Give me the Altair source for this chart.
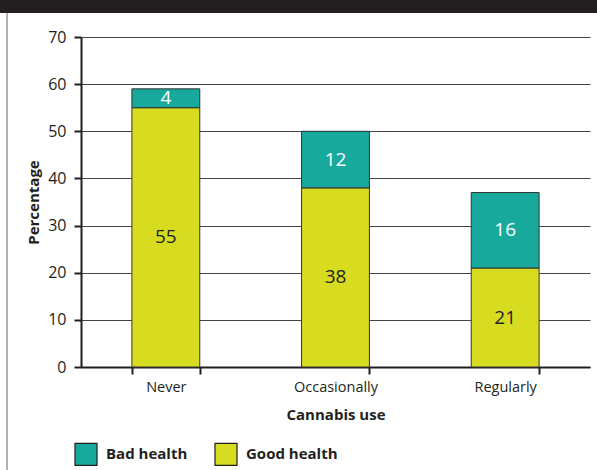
import altair as alt
import pandas as pd

categories = ["Never", "Occasionally", "Regularly"]
good_health = [55, 38, 21]
bad_health = [4, 12, 16]
series = ["Bad health", "Good health"]
colors = ["#17a99c", "#d8dc20"]
y_ticks = [0, 10, 20, 30, 40, 50, 60, 70]

rows = []
for c, g, b in zip(categories, good_health, bad_health):
    rows.append({"category": c, "health": "Good health", "value": g, "ord": 0})
    rows.append({"category": c, "health": "Bad health", "value": b, "ord": 1})
df = pd.DataFrame(rows)

FONT = "Open Sans"
INK = "#231f20"

common_axis = dict(
    labelFont=FONT,
    titleFont=FONT,
    titleFontSize=15,
    titleFontWeight="bold",
    labelColor=INK,
    titleColor=INK,
    domainColor=INK,
    domainWidth=2,
    tickColor=INK,
    tickWidth=2,
    tickSize=7,
)

x_enc = alt.X(
    "category:N",
    sort=categories,
    scale=alt.Scale(paddingInner=0.6, paddingOuter=0.3),
    axis=alt.Axis(
        title="Cannabis use",
        labelAngle=0,
        labelFontSize=14.5,
        tickBand="extent",
        grid=False,
        labelPadding=6,
        titlePadding=14,
        **common_axis,
    ),
)

base = alt.Chart(df).transform_stack(
    stack="value", as_=["v0", "v1"], groupby=["category"],
    sort=[alt.SortField("ord", order="ascending")],
).transform_calculate(mid="(datum.v0 + datum.v1) / 2")

bars = base.mark_bar(stroke="#333333", strokeWidth=1).encode(
    x=x_enc,
    y=alt.Y(
        "v0:Q",
        scale=alt.Scale(domain=[0, 70], nice=False),
        axis=alt.Axis(
            title="Percentage",
            values=y_ticks,
            labelFontSize=16,
            grid=True,
            gridColor="#444444",
            gridWidth=1,
            labelPadding=8,
            titlePadding=6,
            **common_axis,
        ),
    ),
    y2="v1:Q",
    color=alt.Color(
        "health:N",
        scale=alt.Scale(domain=series, range=colors),
        legend=alt.Legend(
            title=None,
            orient="none",
            legendX=-7,
            legendY=405,
            direction="horizontal",
            symbolType="square",
            symbolSize=484,
            symbolStrokeColor=INK,
            symbolStrokeWidth=1.2,
            symbolOpacity=1,
            labelFontSize=15,
            labelFontWeight="bold",
            labelFont=FONT,
            labelColor=INK,
            labelOffset=8,
            columnPadding=24,
        ),
    ),
)

labels = base.mark_text(fontSize=19, font=FONT).encode(
    x=alt.X("category:N", sort=categories),
    y=alt.Y("mid:Q"),
    text=alt.Text("value:Q"),
    color=alt.condition(alt.datum.health == "Bad health", alt.value("white"), alt.value(INK)),
)

deco = pd.DataFrame({"a": [0]})
band = alt.Chart(deco).mark_rect(color=INK).encode(
    x=alt.value(-81), x2=alt.value(516), y=alt.value(-37), y2=alt.value(-24)
)
border = alt.Chart(deco).mark_rule(color="#666666", strokeWidth=1).encode(
    x=alt.value(-74), y=alt.value(-24), y2=alt.value(433)
)

chart = alt.layer(band, border, bars, labels).properties(
    width=509,
    height=330,
    autosize=alt.AutoSizeParams(type="none"),
    padding={"left": 81, "top": 37, "right": 7, "bottom": 103},
).configure_view(stroke=None)

chart.save("out.html", embed_options={"renderer": "svg", "actions": False})
